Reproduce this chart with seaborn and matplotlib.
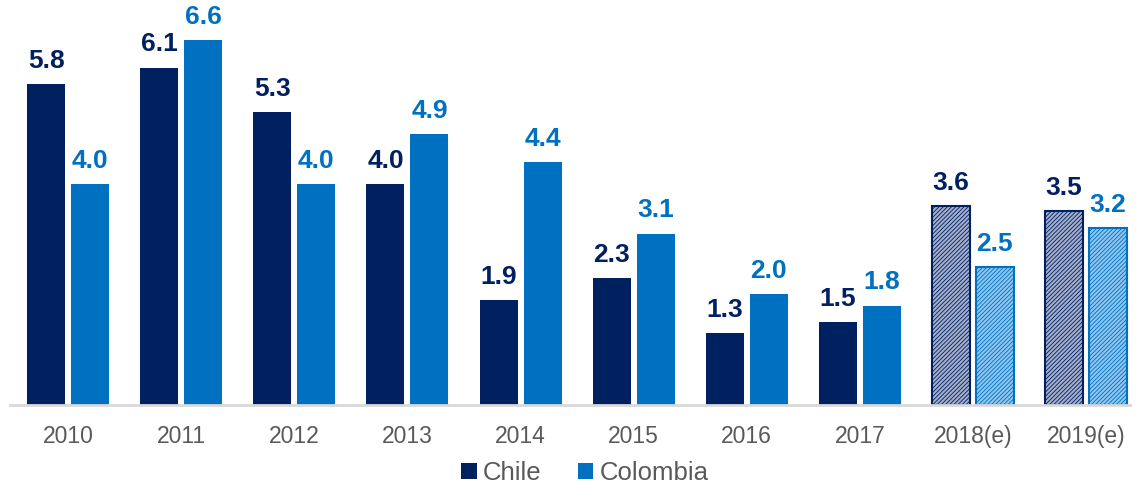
import matplotlib
matplotlib.use("Agg")
import matplotlib.pyplot as plt
import seaborn as sns
import pandas as pd
from matplotlib.patches import Patch

years = ["2010", "2011", "2012", "2013", "2014", "2015", "2016", "2017", "2018(e)", "2019(e)"]
chile = [5.8, 6.1, 5.3, 4.0, 1.9, 2.3, 1.3, 1.5, 3.6, 3.5]
colombia = [4.0, 6.6, 4.0, 4.9, 4.4, 3.1, 2.0, 1.8, 2.5, 3.2]
series = ["Chile", "Colombia"]
estimate = [False] * 8 + [True, True]

colors = {"Chile": "#002060", "Colombia": "#0070C0"}
light = {"Chile": "#a4aecb", "Colombia": "#8ec6f0"}

df = pd.DataFrame({
    "year": years * 2,
    "value": chile + colombia,
    "series": ["Chile"] * len(years) + ["Colombia"] * len(years),
})

sns.set_theme(style="white")
plt.rcParams["font.family"] = ["Liberation Sans", "DejaVu Sans"]
plt.rcParams["hatch.linewidth"] = 0.6

fig = plt.figure(figsize=(11.38, 4.87), dpi=100)
ax = fig.add_axes([0.009, 0.168, 0.984, 0.832])

sns.barplot(data=df, x="year", y="value", hue="series", hue_order=series,
            palette=colors, width=0.778, gap=0.136, ax=ax, legend=False,
            saturation=1)

for cont, s in zip(ax.containers, series):
    for bar, est in zip(cont, estimate):
        if est:
            bar.set_facecolor(light[s])
            bar.set_edgecolor(colors[s])
            bar.set_hatch("////////")
            bar.set_linewidth(1.5)
        else:
            bar.set_edgecolor("none")
    ax.bar_label(cont, fmt="%.1f", padding=8, color=colors[s],
                 fontsize=19, fontweight="bold")

ax.set_ylim(0, 7.32)
ax.set_xlim(-0.513, 9.39)
ax.set_yticks([])
ax.set_xlabel("")
ax.set_ylabel("")
for sp in ["top", "right", "left"]:
    ax.spines[sp].set_visible(False)
ax.spines["bottom"].set_color("#d9d9d9")
ax.spines["bottom"].set_linewidth(2)
ax.tick_params(axis="x", length=0, pad=14, labelsize=16.5, labelcolor="#595959")

handles = [Patch(facecolor=colors[s], edgecolor="none", label=s) for s in series]
fig.legend(handles=handles, loc="center", bbox_to_anchor=(0.514, 0.028), ncol=2,
           frameon=False, fontsize=18.5, handlelength=0.6, handleheight=0.6,
           handletextpad=0.25, columnspacing=1.4, labelcolor="#595959")

fig.savefig("out.png", dpi=100)
